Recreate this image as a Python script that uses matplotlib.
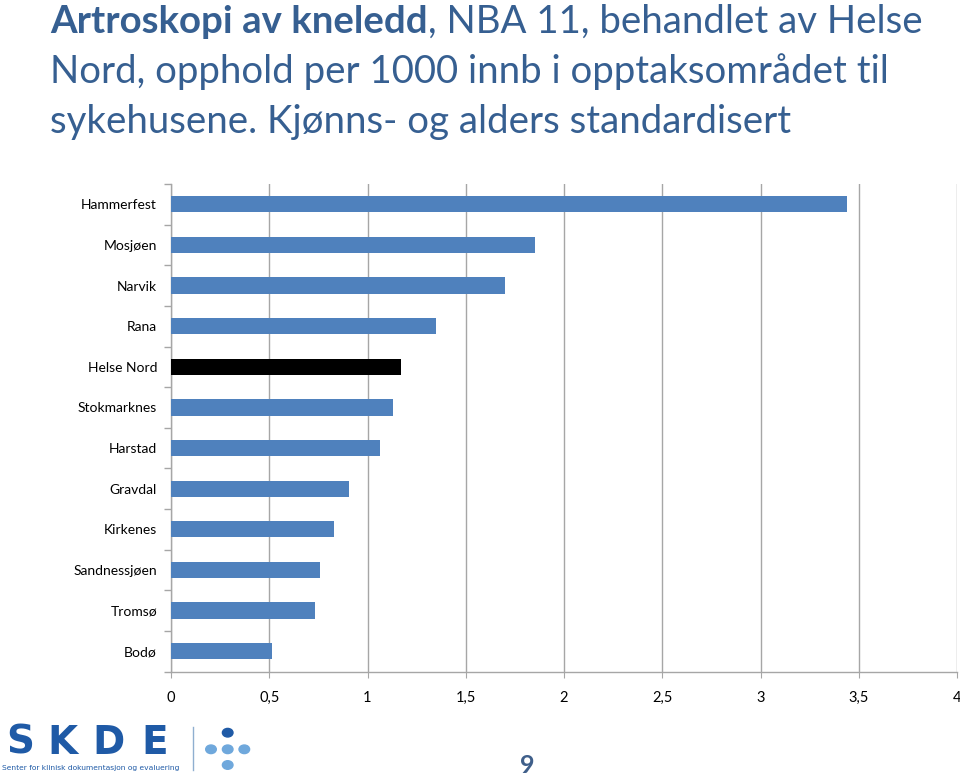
import matplotlib
matplotlib.use("Agg")
import matplotlib.pyplot as plt
from matplotlib.patches import Circle
from matplotlib.ticker import FixedLocator, FuncFormatter

categories = ["Hammerfest", "Mosjøen", "Narvik", "Rana", "Helse Nord", "Stokmarknes",
              "Harstad", "Gravdal", "Kirkenes", "Sandnessjøen", "Tromsø", "Bodø"]
values = [3.44, 1.85, 1.70, 1.35, 1.17, 1.13, 1.065, 0.905, 0.83, 0.76, 0.735, 0.515]
highlight = "Helse Nord"
xticks = [0, 0.5, 1, 1.5, 2, 2.5, 3, 3.5, 4]

FONT = "Lato"
BLUE = "#4F81BD"
TITLE_C = "#365F91"
GRID_C = "#A6A6A6"

fig = plt.figure(figsize=(9.6, 7.77), dpi=100)
W, H = 960, 777

ax = fig.add_axes([171 / W, (H - 671.5) / H, (957 - 171) / W, (671.5 - 184) / H])
n = len(categories)
ypos = list(range(n))
colors = ["black" if c == highlight else BLUE for c in categories]
ax.barh(ypos, values, height=0.4, color=colors, zorder=3)
ax.set_ylim(n - 0.5, -0.5)
ax.set_xlim(0, 4)
ax.set_yticks(ypos)
ax.set_yticklabels(categories, fontsize=10, family=FONT)
ax.yaxis.set_minor_locator(FixedLocator([i - 0.5 for i in range(n + 1)]))
ax.tick_params(axis="y", which="major", length=0, pad=10)
ax.tick_params(axis="y", which="minor", length=5, color=GRID_C, width=1)
ax.set_xticks(xticks)
ax.xaxis.set_major_formatter(FuncFormatter(lambda v, p: (("%g" % v).replace(".", ","))))
ax.tick_params(axis="x", length=4, color=GRID_C, pad=10, labelsize=10.5)
for lab in ax.get_xticklabels():
    lab.set_family(FONT)
ax.grid(axis="x", color=GRID_C, linewidth=1, zorder=0)
for s in ["top", "right"]:
    ax.spines[s].set_visible(False)
for s in ["left", "bottom"]:
    ax.spines[s].set_color(GRID_C)
    ax.spines[s].set_linewidth(1)

# Title
renderer = fig.canvas.get_renderer()
def px(x, y):
    return x / W, (H - y) / H

tsize = 27.6
x0 = 50
t1 = fig.text(*px(x0, 33), "Artroskopi av kneledd", fontsize=tsize, fontweight="bold",
              color=TITLE_C, family=FONT, va="baseline", ha="left")
bb = t1.get_window_extent(renderer)
fig.text(bb.x1 / W, (H - 33) / H, ", NBA 11, behandlet av Helse", fontsize=tsize,
         color=TITLE_C, family=FONT, va="baseline", ha="left")
fig.text(*px(x0, 83), "Nord, opphold per 1000 innb i opptaksområdet til", fontsize=tsize,
         color=TITLE_C, family=FONT, va="baseline", ha="left")
fig.text(*px(x0, 133), "sykehusene. Kjønns- og alders standardisert", fontsize=tsize,
         color=TITLE_C, family=FONT, va="baseline", ha="left")

# Logo
LOGO = "#1F5AA6"
LIGHT = "#6FA8DC"
for letter, cx in zip("SKDE", [20, 62, 108, 155]):
    fig.text(*px(cx, 754), letter, fontsize=28, fontweight="bold", color=LOGO,
             family="DejaVu Sans", va="baseline", ha="center")
fig.text(*px(2, 770), "Senter for klinisk dokumentasjon og evaluering", fontsize=5.4,
         color=LOGO, family="DejaVu Sans", va="baseline", ha="left")
fig.add_artist(plt.Line2D([193 / W, 193 / W], [(H - 727) / H, (H - 770) / H],
                          color="#8FAFD0", linewidth=1))
dots = [(227.7, 732.7, LOGO), (211, 749.3, LIGHT), (227.7, 749.3, LIGHT),
        (244.3, 749.3, LIGHT), (227.7, 765, LIGHT)]
for dx, dy, dc in dots:
    fig.add_artist(Circle(px(dx, dy), 5.3 / W, color=dc, transform=fig.transFigure))
fig.text(*px(527, 773), "9", fontsize=18, fontweight="bold", color="#3F5F8A",
         family=FONT, va="baseline", ha="center")

fig.savefig("out.png", dpi=100)
